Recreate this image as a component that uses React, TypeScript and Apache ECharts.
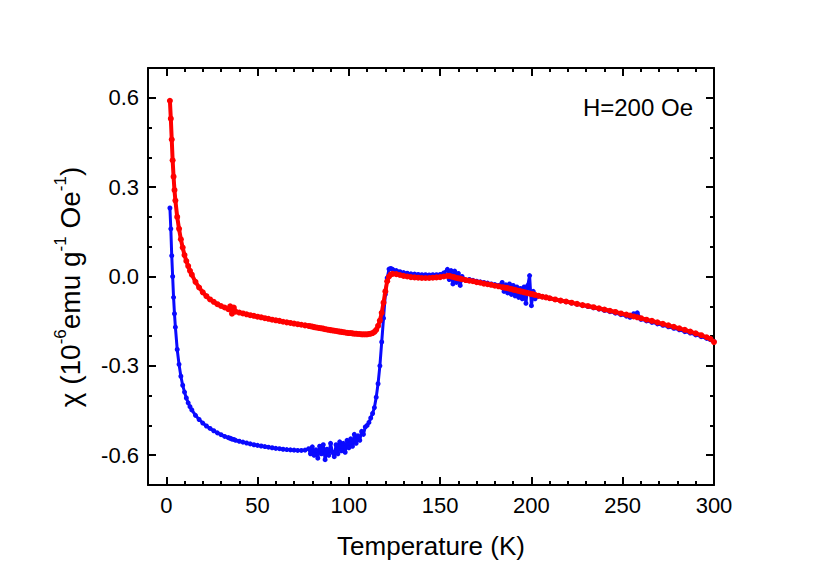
import React, { useEffect, useRef } from 'react';
import * as echarts from 'echarts';

// Temperature (K)
const temperature = [
  2, 2.5, 3, 3.5, 4, 4.5, 5, 6, 7, 8,
  9, 10, 11, 12, 13, 14, 16, 18, 20, 22,
  24, 26, 28, 30, 32, 34, 35, 36, 37, 38,
  40, 42, 44, 46, 48, 50, 52, 54, 56, 58,
  60, 62, 64, 66, 68, 70, 72, 74, 76, 78,
  79, 80, 81, 82, 83, 84, 85, 86, 87, 88,
  89, 90, 91, 92, 93, 94, 95, 96, 97, 98,
  99, 100, 101, 102, 103, 104, 105, 106, 107, 108,
  109, 110, 111, 112, 113, 114, 115, 116, 117, 118,
  119, 120, 121, 122, 123, 124, 126, 128, 130, 132,
  134, 136, 138, 140, 142, 144, 146, 148, 150, 152,
  154, 155, 156, 157, 158, 159, 160, 161, 162, 164,
  166, 168, 170, 172, 174, 176, 178, 180, 182, 184,
  185, 186, 187, 188, 189, 190, 191, 192, 193, 194,
  195, 196, 197, 198, 199, 200, 201, 202, 204, 206,
  208, 210, 213, 216, 219, 222, 225, 228, 231, 234,
  237, 240, 243, 246, 249, 252, 254, 256, 258, 260,
  263, 266, 269, 272, 275, 278, 281, 284, 287, 290,
  293, 296, 298, 300,
];

// Blue curve (zero-field-cooled), 10^-6 emu g^-1 Oe^-1
const chiZFC = [
  0.23, 0.16, 0.07, 0.0, -0.07, -0.125, -0.17, -0.245, -0.295, -0.335,
  -0.365, -0.388, -0.408, -0.424, -0.437, -0.448, -0.466, -0.48, -0.492, -0.502,
  -0.51, -0.518, -0.525, -0.531, -0.537, -0.541, -0.543, -0.546, -0.547, -0.55,
  -0.553, -0.556, -0.559, -0.562, -0.565, -0.567, -0.569, -0.571, -0.573, -0.575,
  -0.577, -0.578, -0.58, -0.581, -0.582, -0.583, -0.584, -0.584, -0.583, -0.578,
  -0.595, -0.572, -0.6, -0.582, -0.61, -0.57, -0.595, -0.565, -0.615, -0.58,
  -0.6, -0.56, -0.59, -0.605, -0.565, -0.595, -0.555, -0.585, -0.56, -0.59,
  -0.55, -0.575, -0.545, -0.57, -0.53, -0.56, -0.535, -0.55, -0.52, -0.53,
  -0.505, -0.5, -0.49, -0.475, -0.46, -0.44, -0.405, -0.36, -0.3, -0.22,
  -0.14, -0.06, -0.005, 0.025, 0.027, 0.024, 0.02, 0.016, 0.013, 0.011,
  0.009, 0.008, 0.007, 0.006, 0.006, 0.005, 0.006, 0.006, 0.007, 0.012,
  0.024, -0.01, 0.02, -0.025, 0.018, -0.02, 0.01, -0.03, 0.0, -0.012,
  -0.01, -0.013, -0.016, -0.018, -0.02, -0.022, -0.025, -0.027, -0.03, -0.02,
  -0.05, -0.028, -0.055, -0.025, -0.06, -0.03, -0.065, -0.035, -0.07, -0.04,
  -0.075, -0.035, -0.09, -0.03, 0.003, -0.098, -0.05, -0.075, -0.065, -0.068,
  -0.07, -0.073, -0.077, -0.081, -0.085, -0.089, -0.093, -0.097, -0.101, -0.105,
  -0.109, -0.114, -0.118, -0.123, -0.128, -0.133, -0.137, -0.125, -0.122, -0.144,
  -0.149, -0.154, -0.159, -0.164, -0.169, -0.174, -0.179, -0.185, -0.19, -0.196,
  -0.202, -0.208, -0.212, -0.218,
];

// Red curve (field-cooled)
const chiFC = [
  0.59, 0.53, 0.46, 0.39, 0.335, 0.29, 0.255, 0.2, 0.16, 0.125,
  0.097, 0.072, 0.052, 0.035, 0.019, 0.006, -0.018, -0.037, -0.053, -0.066,
  -0.077, -0.085, -0.093, -0.099, -0.104, -0.11, -0.1, -0.125, -0.104, -0.118,
  -0.121, -0.124, -0.127, -0.13, -0.132, -0.135, -0.137, -0.14, -0.142, -0.145,
  -0.147, -0.149, -0.152, -0.154, -0.156, -0.158, -0.16, -0.162, -0.164, -0.166,
  -0.167, -0.168, -0.17, -0.171, -0.172, -0.173, -0.174, -0.175, -0.177, -0.178,
  -0.179, -0.18, -0.181, -0.182, -0.183, -0.184, -0.185, -0.186, -0.187, -0.188,
  -0.189, -0.19, -0.19, -0.191, -0.192, -0.192, -0.193, -0.193, -0.194, -0.194,
  -0.194, -0.194, -0.193, -0.192, -0.19, -0.186, -0.179, -0.166, -0.148, -0.122,
  -0.088, -0.05, -0.016, 0.0, 0.007, 0.009, 0.008, 0.005, 0.002, 0.0,
  -0.002, -0.003, -0.004, -0.005, -0.005, -0.005, -0.004, -0.003, -0.002, 0.0,
  0.002, 0.002, 0.0, -0.001, -0.003, -0.005, -0.006, -0.007, -0.009, -0.012,
  -0.014, -0.016, -0.019, -0.021, -0.024, -0.026, -0.028, -0.031, -0.033, -0.036,
  -0.037, -0.038, -0.039, -0.041, -0.042, -0.044, -0.045, -0.047, -0.048, -0.05,
  -0.051, -0.053, -0.054, -0.056, -0.057, -0.059, -0.06, -0.062, -0.065, -0.068,
  -0.07, -0.073, -0.077, -0.081, -0.084, -0.088, -0.092, -0.096, -0.099, -0.103,
  -0.107, -0.111, -0.115, -0.119, -0.124, -0.128, -0.131, -0.134, -0.137, -0.14,
  -0.145, -0.149, -0.154, -0.159, -0.164, -0.169, -0.174, -0.179, -0.185, -0.191,
  -0.197, -0.204, -0.209, -0.22,
];

const xMajorTicks = [0, 50, 100, 150, 200, 250, 300];
const yMajorTicks = [-0.6, -0.3, 0, 0.3, 0.6];
const fieldLabel = 'H=200 Oe';
const xTitle = 'Temperature (K)';
const yTitleRich = '{n|χ (10}{s|-6}{n|emu g}{s|-1}{n| Oe}{s|-1}{n|)}';

const FONT = '"Liberation Sans", Arial, Helvetica, sans-serif';
const BLACK = '#000000';

export default function App() {
  const ref = useRef<HTMLDivElement>(null);

  useEffect(() => {
    if (!ref.current) return;
    const chart = echarts.init(ref.current, undefined, { renderer: 'svg' });

    const xBase = {
      type: 'value',
      min: -10,
      max: 300,
      splitLine: { show: false },
    };
    const yBase = {
      type: 'value',
      min: -0.7,
      max: 0.7,
      splitLine: { show: false },
    };
    const majorTick = (vals: number[]) => ({
      show: true,
      inside: true,
      length: 8,
      customValues: vals,
      lineStyle: { color: BLACK, width: 2 },
    });
    const minorTick = {
      show: true,
      inside: true,
      length: 4,
      lineStyle: { color: BLACK, width: 2 },
    };
    const axisLineOn = { show: true, onZero: false, lineStyle: { color: BLACK, width: 2 } };
    const axisLineOff = { show: false, onZero: false };

    const option: any = {
      animation: false,
      backgroundColor: '#ffffff',
      grid: { left: 148, right: 116, top: 68, bottom: 96, containLabel: false },
      xAxis: [
        {
          ...xBase,
          position: 'bottom',
          axisLine: axisLineOn,
          axisTick: majorTick(xMajorTicks),
          axisLabel: {
            show: true,
            customValues: xMajorTicks,
            color: BLACK,
            fontSize: 22,
            fontFamily: FONT,
            margin: 9,
            formatter: (v: number) => String(Math.round(v)),
          },
          name: xTitle,
          nameLocation: 'middle',
          nameGap: 48,
          nameTextStyle: { color: BLACK, fontSize: 26, fontFamily: FONT },
        },
        {
          ...xBase,
          position: 'bottom',
          interval: 10,
          axisLine: axisLineOff,
          axisTick: minorTick,
          axisLabel: { show: false },
        },
        {
          ...xBase,
          position: 'top',
          axisLine: axisLineOn,
          axisTick: majorTick(xMajorTicks),
          axisLabel: { show: false },
        },
        {
          ...xBase,
          position: 'top',
          interval: 10,
          axisLine: axisLineOff,
          axisTick: minorTick,
          axisLabel: { show: false },
        },
      ],
      yAxis: [
        {
          ...yBase,
          position: 'left',
          axisLine: axisLineOn,
          axisTick: majorTick(yMajorTicks),
          axisLabel: {
            show: true,
            customValues: yMajorTicks,
            color: BLACK,
            fontSize: 22,
            fontFamily: FONT,
            margin: 9,
            formatter: (v: number) => (Math.abs(v) < 1e-9 ? '0.0' : v.toFixed(1)),
          },
        },
        {
          ...yBase,
          position: 'left',
          interval: 0.1,
          axisLine: axisLineOff,
          axisTick: minorTick,
          axisLabel: { show: false },
        },
        {
          ...yBase,
          position: 'right',
          axisLine: axisLineOn,
          axisTick: majorTick(yMajorTicks),
          axisLabel: { show: false },
        },
        {
          ...yBase,
          position: 'right',
          interval: 0.1,
          axisLine: axisLineOff,
          axisTick: minorTick,
          axisLabel: { show: false },
        },
      ],
      graphic: [
        {
          type: 'text',
          right: 137,
          top: 95,
          style: { text: fieldLabel, fontSize: 24, fontFamily: FONT, fill: BLACK },
        },
        {
          type: 'text',
          x: 68,
          y: 287,
          rotation: Math.PI / 2,
          style: {
            text: yTitleRich,
            align: 'center',
            verticalAlign: 'middle',
            fill: BLACK,
            fontFamily: FONT,
            rich: {
              n: { fontSize: 28, fontFamily: FONT, fill: BLACK, lineHeight: 33, verticalAlign: 'bottom' },
              s: { fontSize: 17, fontFamily: FONT, fill: BLACK, verticalAlign: 'top' },
            },
          },
        },
      ],
      series: [
        {
          type: 'line',
          name: 'ZFC',
          xAxisIndex: 0,
          yAxisIndex: 0,
          data: temperature.map((t, i) => [t, chiZFC[i]]),
          symbol: 'circle',
          symbolSize: 5,
          showSymbol: true,
          showAllSymbol: true,
          lineStyle: { color: '#0a0aff', width: 3 },
          itemStyle: { color: '#0a0aff' },
          z: 2,
        },
        {
          type: 'line',
          name: 'FC',
          xAxisIndex: 0,
          yAxisIndex: 0,
          data: temperature.map((t, i) => [t, chiFC[i]]),
          symbol: 'circle',
          symbolSize: 6,
          showSymbol: true,
          showAllSymbol: true,
          lineStyle: { color: '#ff0000', width: 4 },
          itemStyle: { color: '#ff0000' },
          z: 3,
        },
      ],
    };

    chart.setOption(option);
    return () => chart.dispose();
  }, []);

  return <div ref={ref} style={{ width: 830, height: 581, position: 'absolute', left: 0, top: 0 }} />;
}
